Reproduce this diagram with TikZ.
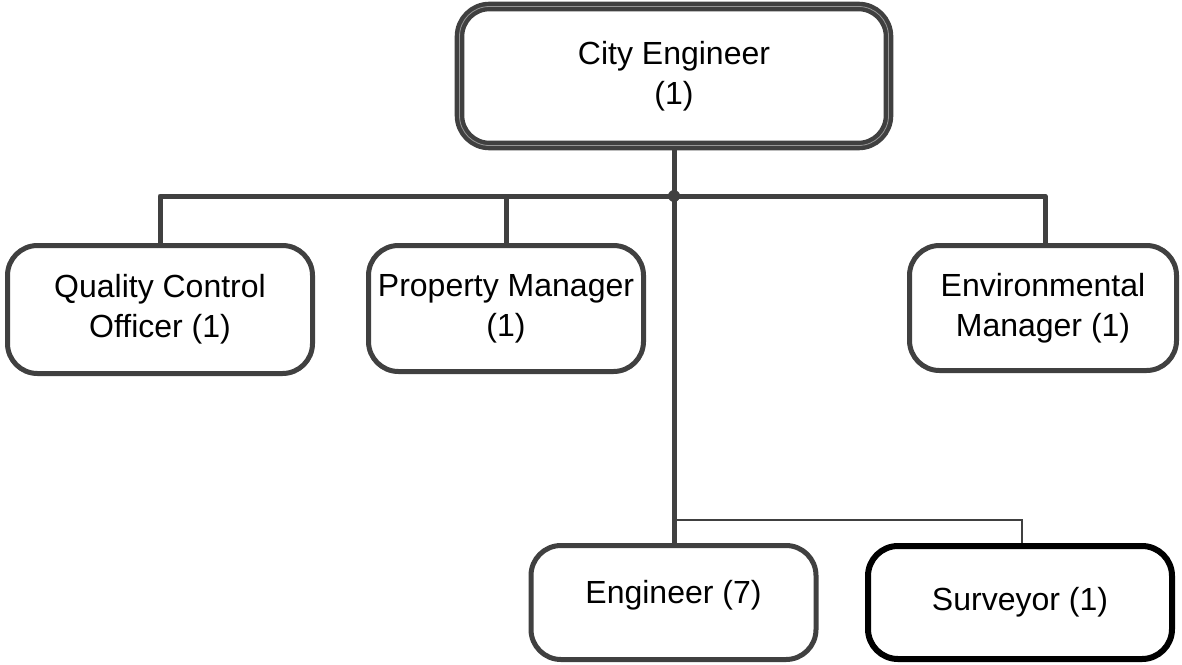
\documentclass[tikz,border=0pt]{standalone}
\usepackage{fontspec}
\setmainfont{Liberation Sans}
\definecolor{lg}{HTML}{404040}
\begin{document}
\begin{tikzpicture}[x=1pt,y=-1pt,
  box/.style={draw=lg, line width=5pt, rounded corners=30pt, fill=white,
    align=center, inner sep=0pt, font=\fontsize{32}{40}\selectfont},
  link/.style={draw=lg, line width=5pt},
  thinlink/.style={draw=lg, line width=2pt}]
\useasboundingbox (0,0) rectangle (1182,664);
\coordinate (bus) at (674,196);
\coordinate (sub) at (674,520);
\node[box, minimum width=429pt, minimum height=139pt, line width=4.4pt,
  double=lg!55!white, double distance=0.8pt, fill=white] (ce) at (674,76) {City Engineer\\(1)};
\node[box, minimum width=305pt, minimum height=128pt] (qc) at (160,309.5) {Quality Control\\Officer (1)};
\node[box, minimum width=275pt, minimum height=126pt] (pm) at (506,308.5) {Property Manager\\(1)};
\node[box, minimum width=267pt, minimum height=125pt] (env) at (1043,308) {Environmental\\Manager (1)};
\node[box, minimum width=285pt, minimum height=114pt] (eng) at (673.5,602.5) {\raisebox{-1pt}[0pt][0pt]{Engineer (7)}};
\node[box, draw=black, line width=6pt, minimum width=304pt, minimum height=113pt] (sur) at (1020,602.5) {Surveyor (1)};
\draw[link] (ce.south -| bus) -- (eng.north -| bus);
\draw[link, line join=round] (qc.north -| 160,0) |- (bus) -| ([xshift=2pt]env.north);
\draw[link] (pm.north) -- (pm.north |- bus);
\fill[lg] (bus) circle (6pt);
\draw[thinlink] (sub) -| ([xshift=2pt]sur.north);
\end{tikzpicture}
\end{document}
